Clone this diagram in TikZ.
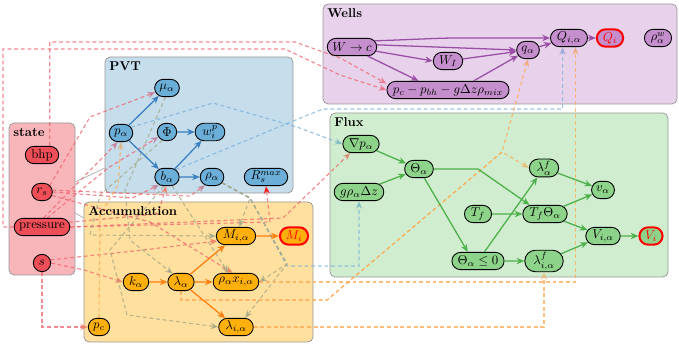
\documentclass[tikz,border=0pt]{standalone}
\usepackage{amsmath,amssymb}
\usepackage{xcolor}
\usepackage{tikz}
\usetikzlibrary{arrows.meta,positioning,shapes.misc,fit}
\definecolor{stbg}{HTML}{F8B6BB}
\definecolor{stnd}{HTML}{EE4E57}
\definecolor{pvbg}{HTML}{C6DDEC}
\definecolor{pvnd}{HTML}{6BAED8}
\definecolor{acbg}{HTML}{FFE09E}
\definecolor{acnd}{HTML}{FDB00C}
\definecolor{flbg}{HTML}{D0EDCF}
\definecolor{flnd}{HTML}{8DD38A}
\definecolor{wlbg}{HTML}{E8D1EA}
\definecolor{wlnd}{HTML}{C58FCD}
\definecolor{cblue}{HTML}{3A80C2}
\definecolor{corg}{HTML}{FF7F0E}
\definecolor{cgrn}{HTML}{4DB04A}
\definecolor{cpur}{HTML}{9A4FA6}
\definecolor{dred}{HTML}{F0636C}
\definecolor{dblue}{HTML}{7AB0DA}
\definecolor{dorg}{HTML}{FFA850}
\definecolor{tmauve}{HTML}{C27E98}
\definecolor{tpink}{HTML}{E8708C}
\definecolor{tored}{HTML}{F27B5E}
\definecolor{tbrown}{HTML}{D98A6A}
\definecolor{tteal}{HTML}{7FB9C2}
\definecolor{tlilac}{HTML}{9AA8D8}
\definecolor{tolive}{HTML}{A3A886}
\definecolor{ttan}{HTML}{E3BC75}
\definecolor{tpeach}{HTML}{F2A77A}
\definecolor{tsand}{HTML}{DDB48A}
\tikzset{
  nd/.style={rounded rectangle,draw=black,line width=0.7pt,minimum height=13.5pt,inner xsep=3pt,inner ysep=1.5pt},
  stn/.style={nd,fill=stnd},
  pvn/.style={nd,fill=pvnd},
  acn/.style={nd,fill=acnd},
  fln/.style={nd,fill=flnd},
  wln/.style={nd,fill=wlnd},
  outn/.style={draw=red,line width=1.6pt,text=red},
  clu/.style={draw=black!40,rounded corners=4pt,line width=0.6pt,inner sep=0pt},
  lbl/.style={anchor=north west,font=\bfseries,inner sep=0pt},
  arr/.style={-{Stealth[length=6pt,width=5pt]},line width=1pt},
  dsh/.style 2 args={draw=#1,dash pattern=on 3pt off 2.2pt,line width=0.9pt,opacity=0.75,-{Stealth[length=6pt,width=5pt,color=#2]}},
  gln/.style={draw=black!30,line width=0.6pt},
}
\pgfdeclarelayer{bg}
\pgfdeclarelayer{edg}
\pgfsetlayers{bg,edg,main}
\begin{document}
\begin{tikzpicture}[x=0.78pt,y=-0.78pt]
\useasboundingbox (0,0) rectangle (679,345);
% clusters
\begin{pgfonlayer}{bg}
\node[clu,fill=stbg,fit={(9,123)(75,275)}] (kstate) {};
\node[clu,fill=pvbg,fit={(105,57)(293,193)}] (kpvt) {};
\node[clu,fill=acbg,fit={(84,202)(313,342)}] (kacc) {};
\node[clu,fill=wlbg,fit={(323,4)(677,104)}] (kwell) {};
\node[clu,fill=flbg,fit={(330,113)(668,277)}] (kflux) {};
\coordinate (ga) at (75,182);
\coordinate (gb) at (105,168);
\coordinate (gc) at (75,213);
\coordinate (gd) at (84,218);
\draw[gln] (ga) -- (gb);
\draw[gln] (gc) -- (gd);
\end{pgfonlayer}
\node[lbl] (tstate) at ([shift={(3.5pt,-4pt)}]kstate.north west) {state};
\node[lbl] (tpvt) at ([shift={(3.5pt,-4pt)}]kpvt.north west) {PVT};
\node[lbl] (tacc) at ([shift={(3.5pt,-4pt)}]kacc.north west) {Accumulation};
\node[lbl] (twell) at ([shift={(3.5pt,-4pt)}]kwell.north west) {Wells};
\node[lbl] (tflux) at ([shift={(3.5pt,-4pt)}]kflux.north west) {Flux};
% state
\node[stn] (bhp) at (42,155) {bhp};
\node[stn] (rs) at (42,192) {$r_s$};
\node[stn] (pres) at (42,227) {pressure};
\node[stn] (s) at (42,263) {$s$};
% PVT
\node[pvn] (mu) at (167,88) {$\mu_\alpha$};
\node[pvn] (pa) at (121,133) {$p_\alpha$};
\node[pvn] (phi) at (167,132) {$\Phi$};
\node[pvn] (wp) at (210,132) {$w_i^p$};
\node[pvn] (ba) at (167,177) {$b_\alpha$};
\node[pvn] (rho) at (212,177) {$\rho_\alpha$};
\node[pvn] (rsmax) at (266,177) {$R_s^{max}$};
% accumulation
\node[acn] (mia) at (236,236) {$M_{i,\alpha}$};
\node[acn,outn] (mi) at (294,236) {$M_i$};
\node[acn] (ka) at (136,282) {$k_\alpha$};
\node[acn] (la) at (181,282) {$\lambda_\alpha$};
\node[acn] (rx) at (236,282) {$\rho_\alpha x_{i,\alpha}$};
\node[acn] (pc) at (99,327) {$p_c$};
\node[acn] (lia) at (236,327) {$\lambda_{i,\alpha}$};
% wells
\node[wln] (wc) at (352,47) {$W \rightarrow c$};
\node[wln] (wi) at (448,61) {$W_I$};
\node[wln] (pcb) at (448,90) {$p_c - p_{bh} - g\Delta z\rho_{mix}$};
\node[wln] (qa) at (528,50) {$q_\alpha$};
\node[wln] (qia) at (569,38) {$Q_{i,\alpha}$};
\node[wln,outn] (qi) at (610,38) {$Q_i$};
\node[wln] (rw) at (658,38) {$\rho_\alpha^w$};
% flux
\node[fln] (gp) at (361,144) {$\nabla p_\alpha$};
\node[fln] (grz) at (359,192) {$g\rho_\alpha\Delta z$};
\node[fln] (th) at (419,169) {$\Theta_\alpha$};
\node[fln] (laf) at (544,168) {$\lambda_\alpha^f$};
\node[fln] (va) at (603,190) {$v_\alpha$};
\node[fln] (tf) at (478,214) {$T_f$};
\node[fln] (tft) at (545,214) {$T_f\Theta_\alpha$};
\node[fln] (via) at (603,236) {$V_{i,\alpha}$};
\node[fln,outn] (vi) at (651,236) {$V_i$};
\node[fln] (thl) at (478,261) {$\Theta_\alpha \leq 0$};
\node[fln] (liaf) at (544,261) {$\lambda_{i,\alpha}^f$};
% dependencies between groups
\begin{pgfonlayer}{edg}
\draw[dsh={dred}{tpink}] ([xshift=6pt]bhp.north) |- (295,42) -- (340,58) -- ([yshift=5pt]pcb.west);
\draw[dsh={dred}{tpink}] (pres.west) -- (3,227) |- (285,49) -- (340,75) -- (pcb.west);
\draw[dsh={dred}{tmauve}] (rs.40) -- (90,117) -- (mu.200);
\draw[dsh={dred}{tmauve}] (pres.80) -- (pa.250);
\draw[dsh={dred}{tmauve}] (pres.60) -- (108,168) -- (phi.210);
\draw[dsh={dred}{tmauve}] (rs.east) -- (132,198) -- (ba.225);
\draw[dsh={dred}{tmauve}] (rs.10) -- (190,196) -- (rho.230);
\draw[dsh={dred}{tored}] (pres.10) -- (158,214) -- (ba.265);
\draw[dsh={dred}{red}] (pres.east) -- (270,222) -- (rsmax.south);
\draw[dsh={dred}{tbrown}] (pres.east) -- (283,218) -- (gp.220);
\draw[dsh={dred}{tored}] (s.south) |- (pc.west);
\draw[dsh={dred}{tored}] (s.east) -- (84,270) -- (ka.west);
\draw[dsh={dred}{tored}] (s.20) -- (143,250) -- (mia.195);
\draw[dsh={dred}{tored}] (rs.-20) -- (150,222) -- (rx.110);
\draw[dsh={dblue}{tteal}] (pa.30) -- (213,103) -- (297,127) -- (gp.west);
\draw[dsh={dblue}{tlilac}] (ba.40) -- (303,117) -- (323,109) -| ([xshift=-5pt]qia.south);
\draw[dsh={dblue}{tteal}] (rho.-30) -- (250,198) -- (287,266) -| (grz.south);
\draw[dsh={tolive}{tolive}] (rho.-30) -- (250,198) -- (mia.70);
\draw[dsh={tolive}{tolive}] (rho.-30) -- (250,198) -- (287,264) -- (rx.east);
\draw[dsh={tolive}{tolive}] (rho.-30) -- (250,198) -- (287,264) -- (lia.45);
\draw[dsh={tolive}{tolive}] (phi.240) -- (100,195) -- (90,235) -- (mia.west);
\draw[dsh={tolive}{tolive}] (mu.260) -- (125,190) -- (130,240) -- (la.135);
\draw[dsh={tolive}{tolive}] (ba.250) -- (110,250) -- (127,315) -- (lia.west);
\draw[dsh={tolive}{tolive}] (ba.300) -- (rx.130);
\draw[dsh={dorg}{ttan}] (la.south) |- (327,300) -- (502,152) -- (laf.west);
\draw[dsh={dorg}{tpeach}] (la.south) |- (327,300) -- (502,152) -- (qa.south);
\draw[dsh={dorg}{ttan}] (lia.east) -| (liaf.south);
\draw[dsh={dorg}{tpeach}] (rx.east) -| ([xshift=5pt]qia.south);
\draw[dsh={dorg}{tsand}] (pc.north) -- (100,215) -- (118,185) -- (pa.south);
\end{pgfonlayer}
% PVT
\draw[arr,cblue] (pa) -- (mu);
\draw[arr,cblue] (pa) -- (ba);
\draw[arr,cblue] (phi) -- (wp);
\draw[arr,cblue] (ba) -- (wp);
\draw[arr,cblue] (ba) -- (rho);
% accumulation
\draw[arr,corg] (ka) -- (la);
\draw[arr,corg] (la) -- (mia);
\draw[arr,corg] (la) -- (rx);
\draw[arr,corg] (la) -- (lia);
\draw[arr,corg] (mia) -- (mi);
% wells
\draw[arr,cpur,rounded corners=8pt] (wc.15) -- (447,38) -- (qia.west);
\draw[arr,cpur] (wc.5) -- (qa.west);
\draw[arr,cpur] (wc.-10) -- (wi.west);
\draw[arr,cpur] (wc.-30) -- ([xshift=-23pt]pcb.north);
\draw[arr,cpur] (wi) -- (qa);
\draw[arr,cpur] ([xshift=20pt]pcb.north) -- (qa);
\draw[arr,cpur] (qa) -- (qia);
\draw[arr,cpur] (qia) -- (qi);
% flux
\draw[arr,cgrn] (gp) -- (th);
\draw[arr,cgrn] (grz) -- (th);
\draw[arr,cgrn] (th.east) -- (478,169) -- ([xshift=-12pt]tft.north);
\draw[arr,cgrn] (th) -- ([xshift=-8pt]thl.north);
\draw[arr,cgrn] (tf) -- (tft);
\draw[arr,cgrn] (thl) -- (laf);
\draw[arr,cgrn] (thl) -- (liaf);
\draw[arr,cgrn] (laf) -- (va);
\draw[arr,cgrn] (tft) -- (va);
\draw[arr,cgrn] (tft) -- (via);
\draw[arr,cgrn] (liaf) -- (via);
\draw[arr,cgrn] (via) -- (vi);
\end{tikzpicture}
\end{document}
